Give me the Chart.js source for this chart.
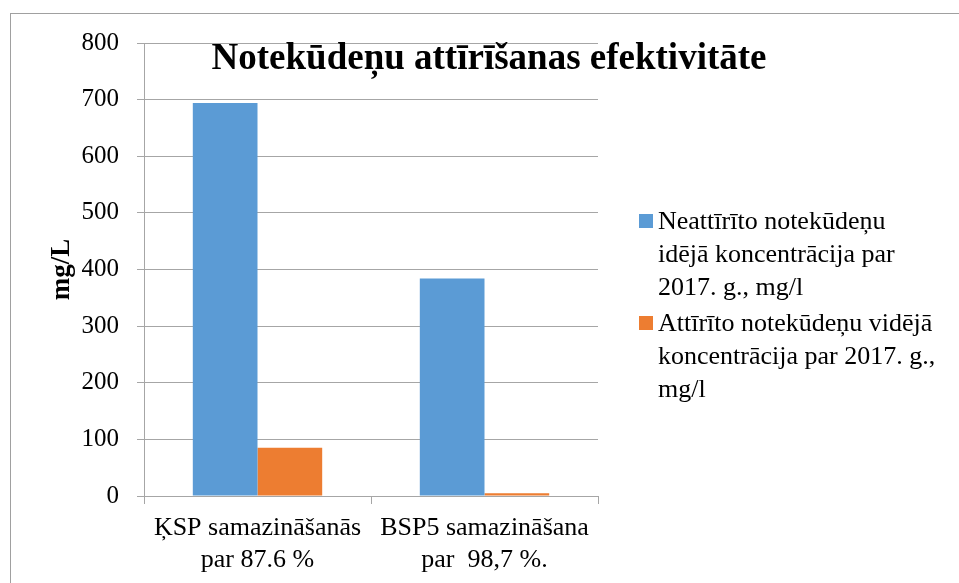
<!DOCTYPE html>
<html>
<head>
<meta charset="utf-8">
<script src="https://cdn.jsdelivr.net/npm/chart.js@4"></script>
<style>
  body { margin: 0; background: #fff; }
  #wrap { position: relative; width: 959px; height: 583px; }
  #frame { position: absolute; left: 10px; top: 13px; right: 0; bottom: -5px; border-top: 1px solid #a0a0a0; border-left: 1px solid #a0a0a0; }
  #legenda { position: absolute; left: 638px; top: 204px; width: 300px; font-family: "Liberation Serif", serif; font-size: 26px; color: #000; }
  .item { position: relative; padding-left: 20px; line-height: 33px; margin-bottom: 3px; }
  .box { position: absolute; left: 1px; top: 10px; width: 14px; height: 14px; }
</style>
</head>
<body>
<div id="wrap">
  <div id="frame"></div>
  <canvas id="myChart" width="959" height="583"></canvas>
  <div id="legenda"></div>
</div>
<script>
// Dati
const kategorijas = [['ĶSP samazināšanās', 'par 87.6 %'], ['BSP5 samazināšana', 'par  98,7 %.']];
const neattirito = [694, 384];
const attirito = [85, 5];
const nosaukumi = ['Neattīrīto notekūdeņu idējā koncentrācija par 2017. g., mg/l',
                   'Attīrīto notekūdeņu vidējā koncentrācija par 2017. g., mg/l'];
const krasas = ['#5b9bd5', '#ed7d31'];
const virsraksts = 'Notekūdeņu attīrīšanas efektivitāte';

const fonts = '"Liberation Serif", "Times New Roman", serif';
Chart.defaults.font.family = fonts;

// virsraksts pāri grafikam
const virsrakstsPlugin = {
    id: 'virsraksts',
    afterDraw(chart) {
        const c = chart.ctx;
        c.save();
        c.font = 'bold 37px ' + fonts;
        c.fillStyle = '#000';
        c.textAlign = 'center';
        c.textBaseline = 'middle';
        c.fillText(virsraksts, 489, 59);
        c.restore();
    }
};

const ctx = document.getElementById('myChart');

new Chart(ctx, {
    type: 'bar',
    data: {
        labels: kategorijas,
        datasets: [{
            label: nosaukumi[0],
            data: neattirito,
            backgroundColor: krasas[0],
            categoryPercentage: 0.57,
            barPercentage: 1
        }, {
            label: nosaukumi[1],
            data: attirito,
            backgroundColor: krasas[1],
            categoryPercentage: 0.57,
            barPercentage: 1
        }]
    },
    options: {
        responsive: false,
        animation: false,
        layout: { padding: { left: 0, right: 361, top: 43, bottom: 0 } },
        plugins: {
            legend: { display: false },
            tooltip: { enabled: false }
        },
        scales: {
            x: {
                grid: { drawOnChartArea: false, drawTicks: true, tickLength: 8, color: '#a6a6a6' },
                border: { color: '#a6a6a6' },
                ticks: { color: '#000', font: { family: fonts, size: 26, lineHeight: 1.2 }, padding: 9 },
                afterFit: function (s) { s.height = 87; }
            },
            y: {
                min: 0,
                max: 800,
                ticks: { stepSize: 100, color: '#000', font: { family: fonts, size: 25 }, padding: 18 },
                grid: { color: '#a6a6a6', tickLength: 7 },
                border: { color: '#a6a6a6' },
                title: { display: true, text: 'mg/L', color: '#000', font: { family: fonts, size: 27, weight: 'bold' }, padding: { top: 46, bottom: 0 } },
                afterFit: function (s) { s.width = 144; }
            }
        }
    },
    plugins: [virsrakstsPlugin]
});

// leģenda
const legenda = document.getElementById('legenda');
nosaukumi.forEach(function (t, i) {
    const d = document.createElement('div');
    d.className = 'item';
    d.innerHTML = '<span class="box" style="background:' + krasas[i] + '"></span>' + t;
    legenda.appendChild(d);
});
</script>
</body>
</html>
